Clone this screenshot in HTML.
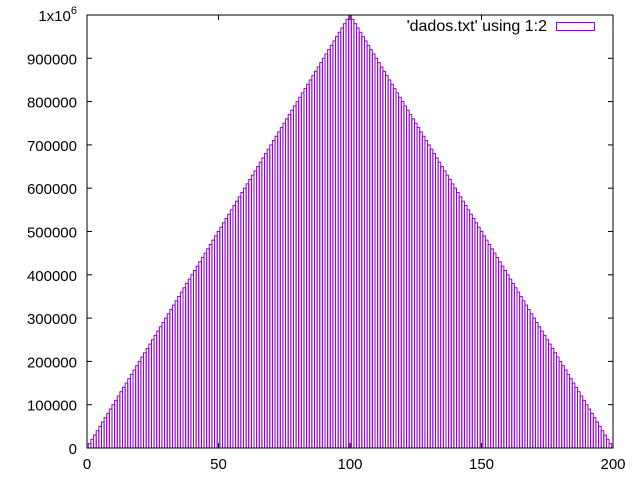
<!DOCTYPE html>
<html><head><meta charset="utf-8"><style>
html,body{margin:0;padding:0;background:#fff;}
svg{display:block;font-family:"Liberation Sans",sans-serif;}
</style></head><body>
<svg id="chart" width="640" height="480">
<g id="axes"></g>
<g id="bars"></g>
<g>
<text x="547" y="31" font-size="16" text-anchor="end" fill="#000">'dados.txt' using 1:2</text>
<rect x="556.5" y="22.5" width="38" height="8" fill="none" stroke="#9400d3" stroke-width="1"/>
</g>
</svg>
<script>
const xValues = [1,2,3,4,5,6,7,8,9,10,11,12,13,14,15,16,17,18,19,20,21,22,23,24,25,26,27,28,29,30,31,32,33,34,35,36,37,38,39,40,41,42,43,44,45,46,47,48,49,50,51,52,53,54,55,56,57,58,59,60,61,62,63,64,65,66,67,68,69,70,71,72,73,74,75,76,77,78,79,80,81,82,83,84,85,86,87,88,89,90,91,92,93,94,95,96,97,98,99,100,101,102,103,104,105,106,107,108,109,110,111,112,113,114,115,116,117,118,119,120,121,122,123,124,125,126,127,128,129,130,131,132,133,134,135,136,137,138,139,140,141,142,143,144,145,146,147,148,149,150,151,152,153,154,155,156,157,158,159,160,161,162,163,164,165,166,167,168,169,170,171,172,173,174,175,176,177,178,179,180,181,182,183,184,185,186,187,188,189,190,191,192,193,194,195,196,197,198,199];
const yValues = [10000,20000,30000,40000,50000,60000,70000,80000,90000,100000,110000,120000,130000,140000,150000,160000,170000,180000,190000,200000,210000,220000,230000,240000,250000,260000,270000,280000,290000,300000,310000,320000,330000,340000,350000,360000,370000,380000,390000,400000,410000,420000,430000,440000,450000,460000,470000,480000,490000,500000,510000,520000,530000,540000,550000,560000,570000,580000,590000,600000,610000,620000,630000,640000,650000,660000,670000,680000,690000,700000,710000,720000,730000,740000,750000,760000,770000,780000,790000,800000,810000,820000,830000,840000,850000,860000,870000,880000,890000,900000,910000,920000,930000,940000,950000,960000,970000,980000,990000,1000000,990000,980000,970000,960000,950000,940000,930000,920000,910000,900000,890000,880000,870000,860000,850000,840000,830000,820000,810000,800000,790000,780000,770000,760000,750000,740000,730000,720000,710000,700000,690000,680000,670000,660000,650000,640000,630000,620000,610000,600000,590000,580000,570000,560000,550000,540000,530000,520000,510000,500000,490000,480000,470000,460000,450000,440000,430000,420000,410000,400000,390000,380000,370000,360000,350000,340000,330000,320000,310000,300000,290000,280000,270000,260000,250000,240000,230000,220000,210000,200000,190000,180000,170000,160000,150000,140000,130000,120000,110000,100000,90000,80000,70000,60000,50000,40000,30000,20000,10000];
const yTicks = [0,100000,200000,300000,400000,500000,600000,700000,800000,900000,1000000];
const yTickLabels = ["0","100000","200000","300000","400000","500000","600000","700000","800000","900000","1x10^6"];
const xTicks = [0,50,100,150,200];
const xTickLabels = ["0","50","100","150","200"];

const L=87,R=613,T=15,B=448, XMIN=0,XMAX=200,YMIN=0,YMAX=1000000, TK=5;
function sx(v){return L+(v-XMIN)/(XMAX-XMIN)*(R-L);}
function sy(v){return B-(v-YMIN)/(YMAX-YMIN)*(B-T);}
const NS="http://www.w3.org/2000/svg";
const bars=document.getElementById('bars'), axes=document.getElementById('axes');
function mk(tag,attrs,parent){const e=document.createElementNS(NS,tag);for(const k in attrs)e.setAttribute(k,attrs[k]);parent.appendChild(e);return e;}

for(let i=0;i<yTicks.length;i++){
  const y=sy(yTicks[i]);
  mk('line',{x1:L,y1:y,x2:L+TK,y2:y,stroke:'#000'},axes);
  mk('line',{x1:R,y1:y,x2:R-TK,y2:y,stroke:'#000'},axes);
  const t=mk('text',{x:77,y:y+6,'font-size':15,'text-anchor':'end',fill:'#000'},axes);
  if(yTickLabels[i].indexOf('^')>=0){
    const p=yTickLabels[i].split('^');
    t.textContent=p[0];
    const s=mk('tspan',{dy:-7,'font-size':11},t);s.textContent=p[1];
  } else t.textContent=yTickLabels[i];
  
  
}
for(let i=0;i<xTicks.length;i++){
  const x=sx(xTicks[i]);
  mk('line',{x1:x,y1:B,x2:x,y2:B-TK,stroke:'#000'},axes);
  mk('line',{x1:x,y1:T,x2:x,y2:T+TK,stroke:'#000'},axes);
  const t=mk('text',{x:x,y:469,'font-size':15,'text-anchor':'middle',fill:'#000'},axes);
  t.textContent=xTickLabels[i];
  
  
}

for(let i=0;i<xValues.length;i++){
  const x0=Math.max(sx(xValues[i]-0.5),L), x1=Math.min(sx(xValues[i]+0.5),R);
  const y=sy(yValues[i]);
  const r=mk('rect',{x:x0,y:y,width:x1-x0,height:B-y,fill:'none',stroke:'#9400d3','stroke-width':1},bars);
  
  
}

const frame=mk('rect',{x:L,y:T,width:R-L,height:B-T,fill:'none',stroke:'#000','stroke-width':1},bars);


</script>
</body></html>
